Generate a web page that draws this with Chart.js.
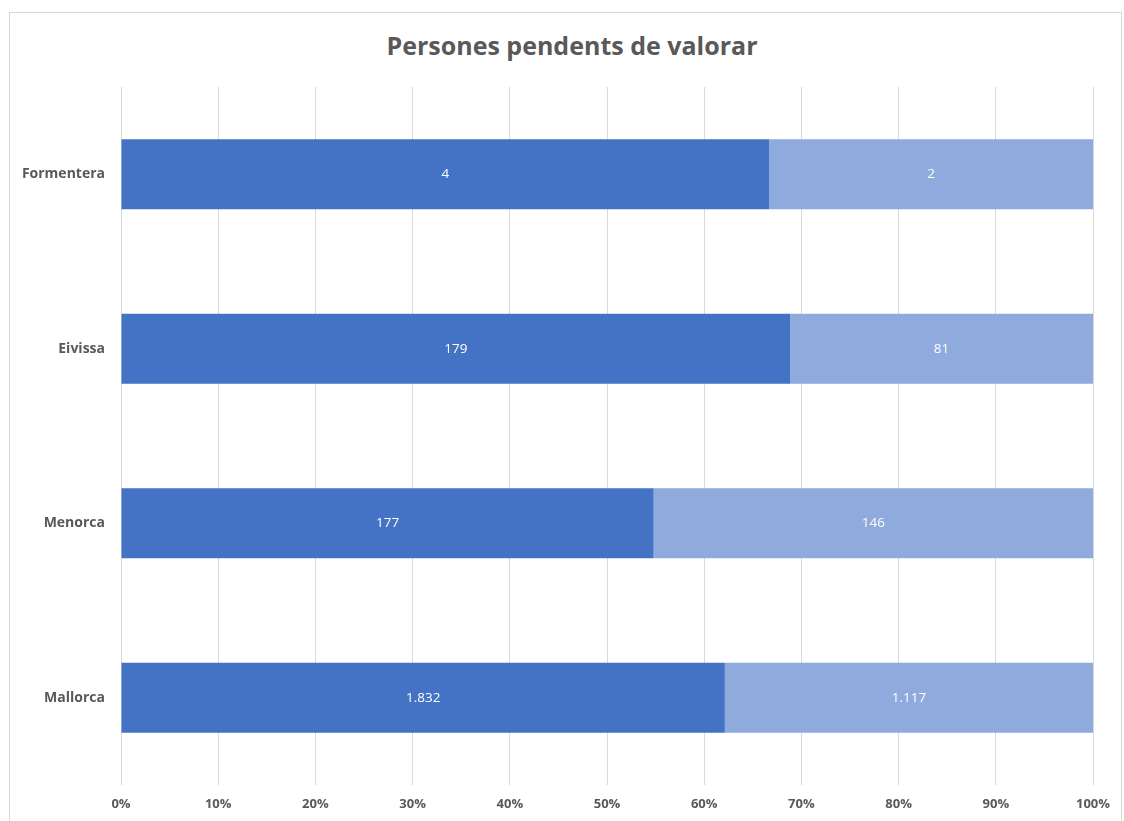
<!DOCTYPE html>
<html lang="ca">
<head>
  <meta charset="UTF-8" />
  <title>Persones pendents de valorar</title>
  <script src="https://cdn.jsdelivr.net/npm/chart.js"></script>
  <style>
    * { margin: 0; padding: 0; box-sizing: border-box; }
    body { background: #fff; width: 1124px; height: 821px; overflow: hidden; position: relative; font-family: 'Open Sans', sans-serif; }
    .frame {
      position: absolute; left: 9px; top: 12px; width: 1113px; height: 830px;
      border: 1px solid #d9d9d9;
    }
    h1 {
      position: absolute; left: 272px; width: 600px; top: 28px;
      text-align: center; font-size: 25px; line-height: 34px;
      font-weight: bold; color: #595959;
    }
    .chart-container { position: absolute; left: 0; top: 0; width: 1124px; height: 821px; }
  </style>
</head>
<body>
  <div class="frame"></div>
  <h1>Persones pendents de valorar</h1>
  <div class="chart-container">
    <canvas id="chart"></canvas>
  </div>

  <script>
    // Dades
    const illes = ['Formentera', 'Eivissa', 'Menorca', 'Mallorca'];
    const serie1 = [4, 179, 177, 1832];
    const serie2 = [2, 81, 146, 1117];
    const ticksX = [0, 10, 20, 30, 40, 50, 60, 70, 80, 90, 100];

    const FONT = "'Open Sans', sans-serif";
    const GRIS = '#595959';

    // percentatges per al 100% apilat
    const totals = illes.map((_, i) => serie1[i] + serie2[i]);
    const pct1 = serie1.map((v, i) => v / totals[i] * 100);
    const pct2 = serie2.map((v, i) => v / totals[i] * 100);

    function fmt(n) {
      return String(n).replace(/\B(?=(\d{3})+(?!\d))/g, '.');
    }

    // etiquetes dins de les barres
    const etiquetes = {
      id: 'etiquetes',
      afterDatasetsDraw(chart) {
        const ctx = chart.ctx;
        ctx.save();
        ctx.fillStyle = '#ffffff';
        ctx.font = '13.5px ' + FONT;
        ctx.textAlign = 'center';
        ctx.textBaseline = 'middle';
        chart.data.datasets.forEach((ds, di) => {
          chart.getDatasetMeta(di).data.forEach((bar, i) => {
            const x = (bar.x + bar.base) / 2;
            ctx.fillText(fmt(ds.raw[i]), x, bar.y);
          });
        });
        ctx.restore();
      }
    };

    new Chart(document.getElementById('chart'), {
      type: 'bar',
      data: {
        labels: illes,
        datasets: [
          { label: 'Sèrie 1', data: pct1, raw: serie1, backgroundColor: '#4472C4' },
          { label: 'Sèrie 2', data: pct2, raw: serie2, backgroundColor: '#8FAADC' }
        ]
      },
      options: {
        indexAxis: 'y',
        responsive: true,
        maintainAspectRatio: false,
        animation: false,
        categoryPercentage: 0.4,
        barPercentage: 1,
        layout: { padding: { top: 87, right: 31, left: 0, bottom: 0 } },
        plugins: {
          legend: { display: false },
          tooltip: { enabled: false },
          title: { display: false }
        },
        scales: {
          x: {
            stacked: true,
            min: 0,
            max: 100,
            afterBuildTicks(scale) { scale.ticks = ticksX.map(v => ({ value: v })); },
            afterFit(scale) { scale.height = 36; },
            grid: { color: '#d9d9d9', drawTicks: false },
            border: { display: false },
            ticks: {
              color: GRIS,
              padding: 11,
              font: { family: FONT, size: 13, weight: 'bold' },
              callback: v => v + '%'
            }
          },
          y: {
            stacked: true,
            afterFit(scale) { scale.width = 121; },
            grid: { display: false, drawTicks: false },
            border: { display: false },
            ticks: {
              color: GRIS,
              padding: 16,
              font: { family: FONT, size: 14, weight: 'bold' }
            }
          }
        }
      },
      plugins: [etiquetes]
    });
  </script>
</body>
</html>
